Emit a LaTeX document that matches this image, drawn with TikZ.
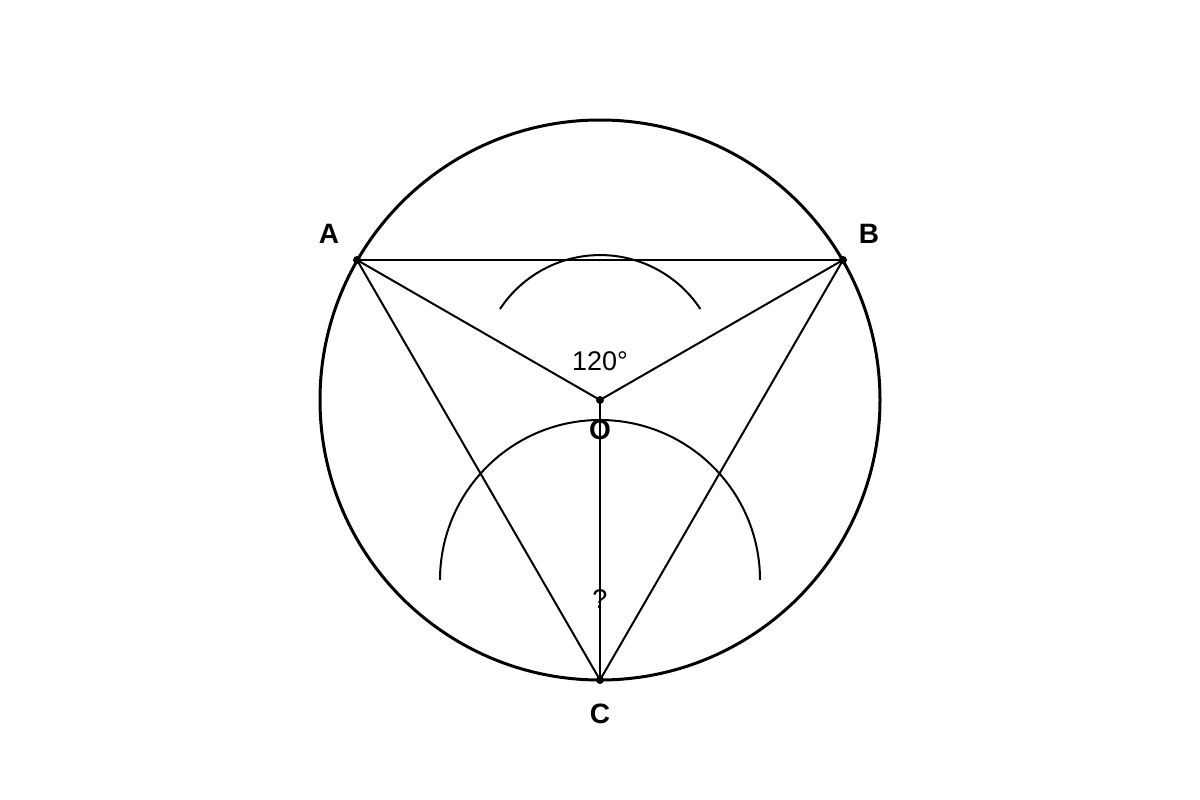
\documentclass[tikz,border=0pt]{standalone}
\usepackage{fontspec}
\setmainfont{Liberation Sans}
\begin{document}
\begin{tikzpicture}[x=1pt,y=-1pt,
  lbl/.style={font=\fontsize{28}{32}\selectfont\bfseries},
  txt/.style={font=\fontsize{27}{31}\selectfont},
  dot/.style={circle,fill=black,inner sep=0pt,minimum size=8pt},
  thin/.style={line width=2pt}]
\useasboundingbox (0,0) rectangle (1200,800);
\coordinate (O) at (600,400);
\coordinate (A) at (357,260);
\coordinate (B) at (843,260);
\coordinate (C) at (600,680);
\draw[line width=3pt] (O) circle (280);
\draw[thin] (A) -- (B);
\draw[thin] (A) -- (O) -- (B);
\draw[thin] (A) -- (C) -- (B);
\draw[thin] (O) -- (C);
\draw[thin] (500,309) arc[start angle=-146.6, end angle=-33.4, radius=120];
\draw[thin] (440,580) arc[start angle=-180, end angle=0, radius=160];
\node[dot] (dA) at (A) {};
\node[dot] (dB) at (B) {};
\node[dot] (dC) at (C) {};
\node[dot] (dO) at (O) {};
\node[lbl] (lA) at (329,234) {A};
\node[lbl] (lB) at (869,234) {B};
\node[lbl] (lO) at (600,430) {O};
\node[lbl] (lC) at (600,714) {C};
\node[txt] (ang) at (600,361) {120°};
\node[txt] (q) at (600,599) {?};
\end{tikzpicture}
\end{document}
